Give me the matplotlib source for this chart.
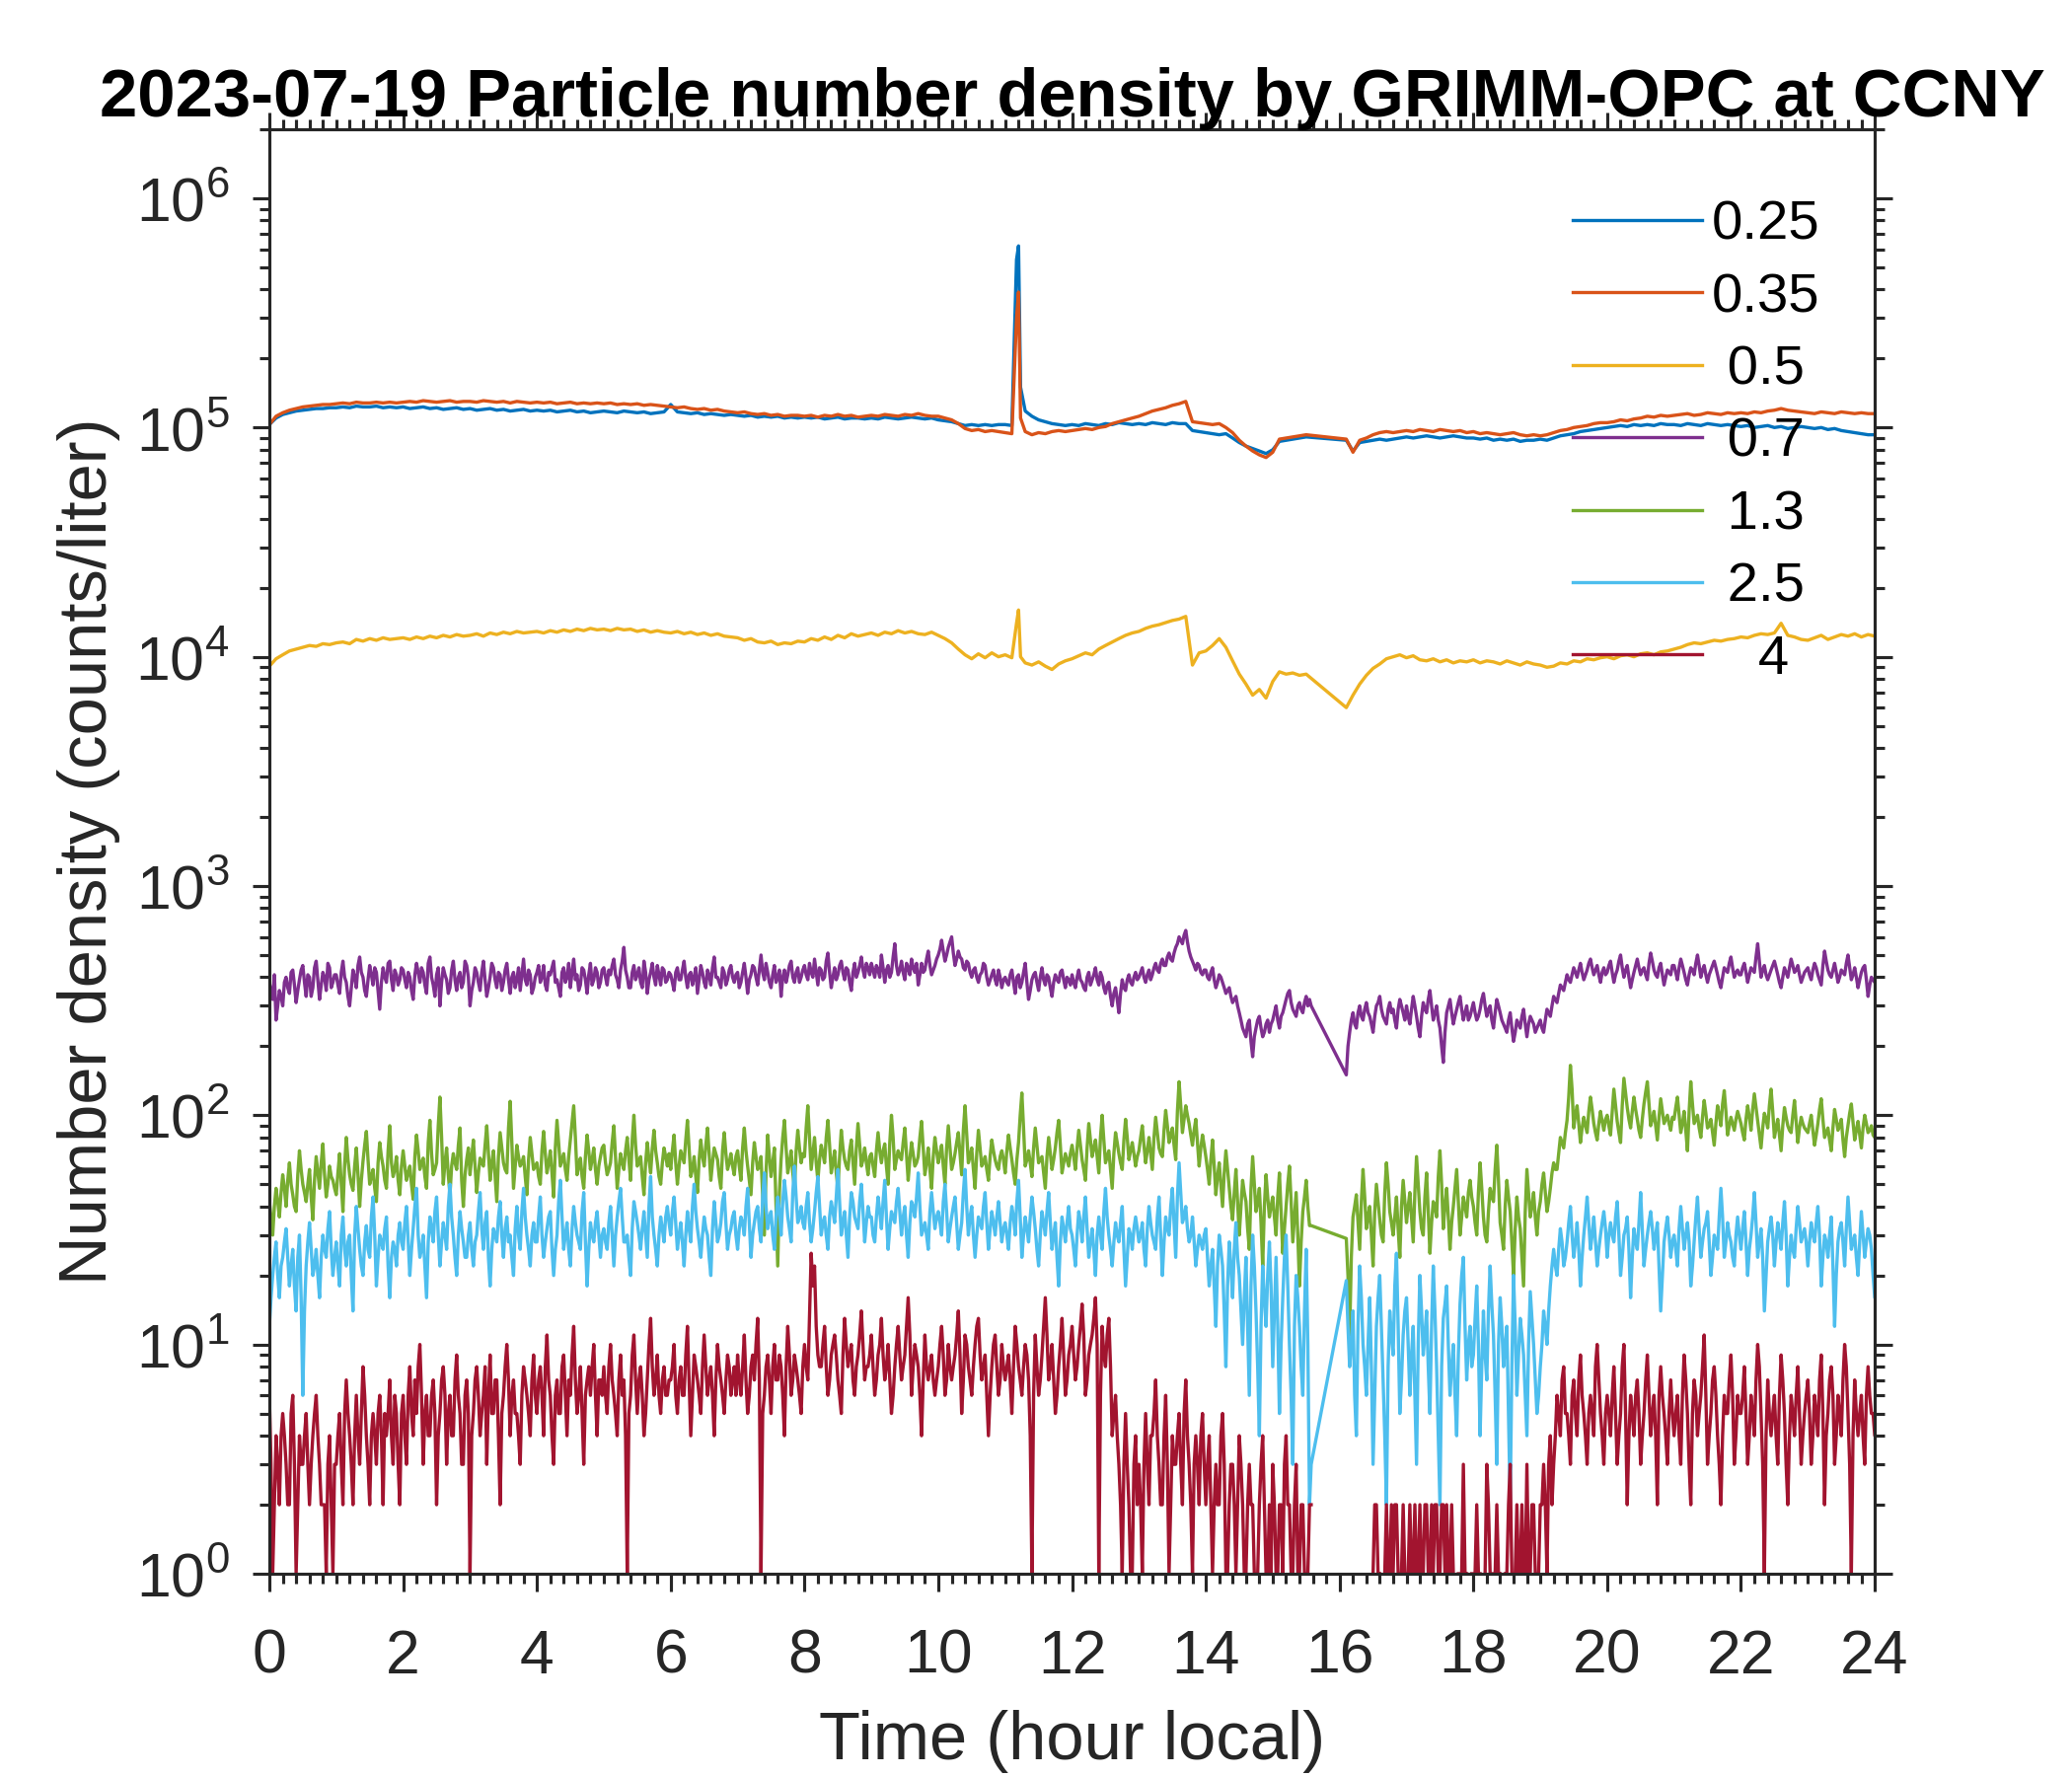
import numpy as np
import matplotlib
matplotlib.use('Agg')
import matplotlib.pyplot as plt
from matplotlib.ticker import MultipleLocator, LogLocator, NullFormatter

plt.rcParams['font.family'] = ['Liberation Sans', 'DejaVu Sans']

# GRIMM-OPC, 2023-07-19, CCNY.  One row per hour; no data 15.55 - 16.1 h
sizes = ['0.25', '0.35', '0.5', '0.7', '1.3', '2.5', '4']
colors = ['#0072BD', '#D95319', '#EDB120', '#7E2F8E', '#77AC30', '#4DBEEE', '#A2142F']

row_start = list(range(15)) + [15, 16.1] + list(range(17, 25))

# small sizes, 6 min steps, in 1000 counts/liter
n025 = [
    [103, 110, 114, 116, 118, 119, 120, 121, 121, 122],
    [122, 123, 122, 124, 123, 123, 124, 122, 123, 122],
    [123, 121, 122, 123, 121, 122, 120, 121, 122, 120],
    [121, 119, 120, 121, 119, 120, 118, 119, 120, 118],
    [119, 118, 119, 117, 118, 119, 117, 118, 116, 117],
    [118, 117, 116, 118, 117, 116, 117, 115, 116, 117],
    [126, 117, 116, 115, 116, 114, 115, 114, 113, 114],
    [113, 112, 113, 111, 112, 111, 112, 110, 111, 110],
    [111, 110, 111, 109, 110, 111, 109, 110, 110, 109],
    [110, 109, 111, 110, 109, 110, 111, 110, 109, 110],
    [108, 107, 106, 104, 102, 103, 102, 103, 102, 103],
    [103, 102, 620, 118, 112, 108, 106, 104, 103, 102],
    [103, 102, 104, 103, 102, 104, 103, 105, 104, 103],
    [104, 103, 105, 104, 103, 105, 104, 104, 97, 96],
    [95, 94, 93, 94, 90, 86, 83, 81, 79, 77],
    [80, 87, 88, 89, 90, 91],
    [88, 79, 86, 87, 88, 89, 88, 89, 90],
    [91, 90, 91, 92, 91, 90, 91, 92, 91, 90],
    [90, 89, 90, 88, 89, 88, 89, 87, 88, 88],
    [89, 88, 90, 92, 93, 94, 96, 97, 98, 99],
    [100, 101, 102, 101, 103, 102, 103, 102, 104, 103],
    [103, 102, 104, 103, 102, 104, 103, 102, 103, 102],
    [101, 102, 100, 101, 102, 100, 101, 99, 100, 101],
    [100, 99, 100, 98, 99, 97, 96, 95, 94, 93],
    [93],
]
n035 = [
    [103, 112, 116, 119, 121, 123, 124, 125, 126, 126],
    [127, 128, 127, 129, 128, 128, 129, 128, 129, 128],
    [129, 130, 129, 131, 130, 129, 130, 131, 129, 130],
    [130, 129, 131, 130, 129, 130, 128, 130, 129, 128],
    [129, 128, 129, 127, 128, 129, 127, 128, 127, 128],
    [127, 128, 126, 127, 126, 127, 125, 126, 125, 124],
    [123, 122, 123, 121, 120, 121, 119, 120, 118, 117],
    [116, 117, 115, 114, 115, 113, 114, 112, 113, 113],
    [112, 113, 111, 113, 112, 114, 112, 113, 111, 112],
    [113, 112, 114, 113, 112, 114, 113, 115, 113, 112],
    [112, 110, 108, 104, 99, 97, 98, 96, 97, 96],
    [95, 94, 390, 96, 93, 95, 94, 96, 97, 96],
    [97, 98, 99, 98, 100, 101, 104, 106, 108, 110],
    [112, 115, 118, 120, 122, 125, 127, 130, 106, 105],
    [104, 103, 104, 100, 95, 88, 83, 79, 76, 74],
    [78, 89, 90, 91, 92, 93],
    [89, 78, 88, 90, 93, 95, 96, 95, 96],
    [97, 96, 98, 97, 96, 98, 97, 96, 97, 95],
    [96, 94, 95, 94, 93, 94, 95, 93, 92, 93],
    [92, 93, 95, 97, 98, 100, 101, 102, 104, 105],
    [105, 106, 108, 107, 109, 110, 112, 111, 113, 112],
    [113, 114, 115, 113, 114, 116, 115, 114, 116, 115],
    [116, 115, 117, 116, 118, 119, 121, 119, 118, 117],
    [116, 115, 117, 116, 115, 117, 116, 115, 116, 115],
    [115],
]
n05 = [
    [9.1, 9.8, 10.2, 10.6, 10.8, 11.0, 11.2, 11.1, 11.4, 11.3],
    [11.5, 11.6, 11.4, 11.9, 11.7, 12.0, 11.8, 12.1, 11.9, 12.0],
    [12.1, 11.9, 12.2, 12.0, 12.3, 12.1, 12.4, 12.2, 12.5, 12.3],
    [12.4, 12.6, 12.3, 12.7, 12.5, 12.8, 12.6, 12.9, 12.7, 12.8],
    [12.9, 12.7, 13.0, 12.8, 13.1, 12.9, 13.2, 13.0, 13.3, 13.1],
    [13.2, 13.0, 13.3, 13.1, 13.2, 12.9, 13.1, 12.8, 13.0, 12.8],
    [12.7, 12.9, 12.6, 12.8, 12.5, 12.7, 12.4, 12.6, 12.3, 12.2],
    [12.1, 11.8, 12.0, 11.6, 11.5, 11.7, 11.3, 11.5, 11.4, 11.7],
    [11.6, 12.0, 11.8, 12.2, 11.9, 12.4, 12.1, 12.6, 12.3, 12.5],
    [12.7, 12.4, 12.8, 12.6, 13.0, 12.7, 12.9, 12.6, 12.5, 12.8],
    [12.4, 12.0, 11.5, 10.8, 10.2, 9.8, 10.3, 9.9, 10.4, 10.0],
    [10.2, 9.9, 16.0, 9.4, 9.2, 9.5, 9.1, 8.8, 9.3, 9.6],
    [9.8, 10.1, 10.4, 10.2, 10.8, 11.2, 11.6, 12.0, 12.4, 12.7],
    [12.9, 13.3, 13.6, 13.8, 14.1, 14.4, 14.6, 15.0, 9.2, 10.4],
    [10.6, 11.2, 12.0, 11.0, 9.6, 8.4, 7.6, 6.8, 7.2, 6.6],
    [7.8, 8.6, 8.4, 8.5, 8.3, 8.4],
    [6.0, 6.8, 7.6, 8.3, 8.9, 9.3, 9.8, 10.0, 10.2],
    [9.9, 10.1, 9.7, 9.6, 9.8, 9.5, 9.7, 9.4, 9.6, 9.5],
    [9.7, 9.4, 9.6, 9.5, 9.3, 9.6, 9.4, 9.2, 9.5, 9.3],
    [9.2, 9.0, 9.1, 9.4, 9.3, 9.6, 9.5, 9.8, 9.7, 9.9],
    [10.0, 9.8, 10.1, 10.2, 10.0, 10.3, 10.4, 10.2, 10.5, 10.6],
    [10.8, 11.0, 11.3, 11.5, 11.4, 11.6, 11.8, 11.7, 11.9, 12.0],
    [12.2, 12.1, 12.4, 12.6, 12.5, 12.7, 14.0, 12.4, 12.2, 11.9],
    [11.8, 12.1, 12.4, 11.9, 12.2, 12.5, 12.3, 12.6, 12.2, 12.5],
    [12.3],
]
# extra samples around the 11.2 h burst
spike_t = [11.17, 11.23]
spike_025 = [540, 150]
spike_035 = [300, 110]
spike_05 = [14.0, 10.0]

# larger sizes, 3 min steps (counts/liter) ...
n07 = [
    [380, 320, 260, 350, 300, 400, 340, 430, 310, 390, 450, 330, 400, 360, 470, 320, 420, 350, 440, 380],
    [410, 340, 470, 380, 300, 430, 360, 490, 400, 330, 450, 370, 420, 290, 440, 380, 470, 350, 410, 390],
    [430, 360, 400, 320, 460, 380, 420, 340, 490, 370, 410, 300, 440, 390, 360, 470, 350, 420, 380, 450],
    [300, 380, 420, 350, 470, 330, 400, 440, 360, 410, 380, 460, 340, 420, 390, 350, 480, 370, 410, 360],
    [420, 380, 450, 350, 410, 470, 390, 330, 440, 400, 360, 480, 410, 370, 430, 340, 460, 390, 420, 380],
    [440, 370, 410, 480, 390, 430, 540, 400, 360, 450, 410, 380, 470, 340, 420, 400, 450, 370, 430, 390],
    [410, 350, 440, 390, 470, 360, 420, 400, 340, 450, 380, 430, 370, 490, 400, 360, 420, 390, 450, 380],
    [420, 380, 460, 340, 410, 440, 370, 500, 390, 420, 360, 450, 400, 330, 430, 410, 470, 380, 440, 400],
    [450, 390, 420, 480, 370, 430, 400, 510, 360, 440, 410, 470, 390, 430, 350, 460, 420, 490, 400, 440],
    [460, 400, 430, 500, 380, 450, 420, 560, 410, 470, 390, 440, 480, 420, 370, 460, 430, 520, 410, 450],
    [500, 580, 470, 540, 600, 450, 520, 480, 430, 460, 400, 440, 380, 420, 450, 370, 410, 390, 430, 360],
    [400, 370, 430, 340, 410, 380, 460, 320, 390, 420, 350, 440, 370, 400, 330, 410, 380, 430, 360, 390],
    [410, 360, 430, 380, 350, 420, 390, 440, 370, 400, 340, 380, 300, 360, 280, 390, 350, 410, 370, 420],
    [400, 440, 380, 430, 410, 460, 420, 480, 450, 510, 470, 540, 600, 560, 640, 520, 470, 430, 450, 410],
    [430, 390, 440, 360, 410, 380, 340, 360, 310, 330, 280, 240, 220, 260, 180, 240, 270, 220, 250, 230],
    [260, 300, 240, 280, 320, 350, 290, 270, 310, 280, 330, 320],
    [150, 230, 280, 240, 300, 260, 310, 270, 230, 300, 330, 270, 250, 310, 290, 240, 320, 280],
    [300, 250, 330, 270, 220, 310, 280, 350, 260, 300, 240, 170, 280, 320, 250, 290, 330, 260, 300, 270],
    [310, 260, 290, 340, 270, 300, 240, 320, 280, 250, 230, 280, 210, 260, 240, 290, 220, 270, 250, 240],
    [260, 230, 290, 270, 330, 310, 370, 350, 410, 380, 440, 400, 460, 390, 430, 480, 410, 450, 380, 440],
    [420, 470, 380, 430, 500, 400, 450, 360, 420, 480, 410, 440, 390, 510, 430, 400, 460, 370, 430, 410],
    [450, 390, 480, 420, 370, 440, 410, 500, 400, 450, 380, 430, 470, 410, 360, 440, 420, 490, 400, 430],
    [410, 460, 380, 440, 420, 560, 400, 450, 390, 430, 470, 410, 360, 440, 400, 480, 420, 450, 380, 420],
    [440, 390, 460, 410, 370, 520, 430, 400, 460, 380, 430, 410, 500, 390, 440, 360, 420, 450, 330, 400],
    [380],
]
# ... plus the readings taken half-way between them
n07_mid = [
    [350, 410, 300, 330, 380, 360, 420, 370, 350, 430, 380, 410, 330, 440, 390, 370, 400, 460, 360, 410],
    [370, 420, 400, 330, 360, 400, 450, 420, 350, 390, 410, 440, 350, 380, 400, 460, 390, 430, 370, 440],
    [390, 420, 350, 410, 420, 440, 370, 460, 400, 330, 440, 380, 410, 340, 430, 390, 400, 360, 470, 400],
    [350, 440, 380, 420, 390, 360, 460, 390, 420, 350, 430, 390, 400, 360, 440, 410, 390, 430, 340, 400],
    [450, 400, 370, 420, 440, 380, 360, 420, 380, 460, 420, 390, 350, 440, 390, 410, 370, 440, 360, 430],
    [400, 430, 450, 410, 360, 470, 430, 360, 420, 390, 440, 360, 420, 390, 460, 370, 410, 440, 380, 420],
    [380, 420, 390, 430, 400, 410, 370, 440, 390, 420, 360, 410, 440, 400, 380, 440, 370, 430, 400, 410],
    [360, 420, 400, 390, 450, 400, 430, 420, 460, 380, 410, 380, 430, 400, 380, 450, 400, 420, 380, 430],
    [410, 460, 400, 420, 440, 390, 470, 420, 400, 390, 450, 420, 440, 380, 420, 400, 450, 430, 460, 410],
    [430, 450, 400, 440, 430, 400, 490, 450, 430, 420, 460, 410, 440, 460, 410, 420, 480, 450, 430, 480],
    [530, 520, 500, 570, 510, 480, 490, 440, 470, 420, 430, 400, 410, 460, 400, 390, 430, 370, 400, 390],
    [380, 410, 380, 400, 360, 420, 380, 350, 410, 380, 400, 390, 410, 360, 380, 390, 420, 390, 400, 370],
    [380, 400, 390, 360, 400, 370, 410, 390, 420, 360, 370, 330, 340, 320, 340, 360, 390, 380, 400, 390],
    [420, 400, 410, 390, 440, 430, 460, 450, 490, 480, 510, 560, 580, 610, 570, 490, 450, 460, 420, 430],
    [400, 420, 390, 380, 400, 360, 350, 330, 320, 300, 260, 230, 250, 210, 220, 260, 240, 230, 260, 250],
    [280, 260, 270, 300, 340, 310, 280, 300, 290, 310, 300, 300],
    [200, 260, 250, 280, 270, 290, 280, 250, 270, 310, 290, 260, 290, 280, 260, 290, 300, 260],
    [270, 290, 300, 240, 270, 290, 320, 300, 280, 260, 200, 230, 300, 280, 270, 310, 290, 280, 260, 290],
    [280, 270, 320, 300, 290, 260, 280, 300, 260, 240, 260, 240, 230, 250, 270, 250, 250, 260, 230, 250],
    [240, 260, 280, 300, 320, 340, 360, 380, 390, 410, 420, 430, 420, 410, 460, 440, 430, 410, 420, 410],
    [450, 420, 410, 470, 440, 430, 400, 390, 450, 440, 430, 410, 460, 470, 410, 440, 410, 400, 420, 450],
    [420, 440, 450, 390, 410, 430, 460, 450, 430, 410, 410, 450, 440, 380, 400, 430, 460, 440, 420, 410],
    [440, 420, 410, 430, 490, 470, 430, 410, 410, 450, 440, 380, 400, 420, 440, 450, 430, 410, 400, 430],
    [410, 430, 440, 390, 450, 470, 410, 430, 420, 400, 420, 460, 440, 410, 400, 390, 440, 390, 370, 390],
    [380],
]
n13 = [
    [42, 30, 48, 36, 55, 40, 62, 45, 38, 70, 50, 42, 58, 35, 66, 48, 75, 44, 60, 52],
    [45, 68, 38, 80, 55, 47, 72, 40, 63, 85, 50, 58, 42, 76, 60, 48, 90, 54, 66, 45],
    [70, 52, 60, 43, 82, 58, 65, 48, 95, 55, 62, 120, 50, 72, 45, 68, 58, 88, 40, 64],
    [55, 78, 46, 65, 60, 90, 52, 70, 42, 84, 62, 56, 115, 48, 74, 60, 66, 45, 80, 58],
    [62, 50, 85, 56, 70, 44, 95, 60, 68, 52, 78, 110, 55, 65, 48, 82, 58, 72, 50, 66],
    [74, 55, 62, 90, 48, 68, 58, 80, 52, 100, 60, 66, 45, 76, 56, 86, 62, 50, 72, 60],
    [58, 82, 50, 70, 62, 95, 54, 66, 46, 78, 60, 88, 52, 72, 64, 48, 84, 58, 68, 55],
    [70, 52, 88, 60, 45, 76, 58, 66, 30, 82, 54, 72, 22, 64, 95, 56, 70, 48, 86, 62],
    [66, 110, 58, 80, 52, 74, 62, 95, 56, 70, 48, 86, 64, 58, 78, 50, 92, 60, 72, 55],
    [68, 54, 84, 62, 75, 50, 100, 58, 70, 64, 88, 52, 76, 60, 66, 94, 55, 72, 48, 80],
    [62, 74, 50, 90, 58, 68, 84, 55, 110, 62, 72, 48, 86, 60, 66, 52, 78, 64, 58, 70],
    [56, 82, 64, 50, 76, 125, 60, 70, 54, 88, 62, 66, 48, 80, 58, 72, 95, 56, 68, 60],
    [74, 58, 86, 64, 52, 92, 66, 78, 56, 100, 62, 70, 48, 84, 68, 58, 96, 64, 76, 60],
    [70, 90, 62, 80, 58, 98, 72, 66, 105, 76, 88, 64, 140, 84, 110, 92, 74, 96, 60, 82],
    [66, 50, 78, 45, 62, 40, 70, 48, 35, 58, 30, 52, 42, 26, 66, 38, 48, 22, 55, 36],
    [44, 30, 56, 25, 40, 60, 28, 46, 18, 38, 52, 33],
    [29, 11, 36, 45, 26, 58, 32, 40, 22, 50, 35, 28, 62, 38, 30, 44, 24, 52],
    [34, 46, 28, 66, 38, 30, 56, 25, 42, 36, 70, 32, 48, 26, 40, 58, 30, 44, 36, 52],
    [40, 30, 62, 36, 28, 48, 42, 74, 34, 26, 52, 38, 20, 44, 32, 18, 58, 36, 46, 30],
    [42, 56, 38, 48, 62, 58, 80, 72, 95, 165, 88, 110, 76, 98, 84, 120, 92, 78, 104, 86],
    [100, 82, 130, 94, 76, 145, 108, 88, 120, 96, 80, 112, 140, 90, 104, 78, 118, 92, 100, 86],
    [96, 120, 84, 104, 70, 140, 92, 100, 80, 116, 88, 96, 74, 110, 90, 128, 82, 98, 86, 104],
    [92, 78, 110, 86, 124, 94, 72, 102, 88, 130, 80, 96, 70, 108, 90, 84, 116, 76, 98, 88],
    [84, 100, 74, 92, 118, 80, 88, 70, 106, 86, 96, 66, 90, 112, 78, 94, 72, 100, 84, 90],
    [80],
]
n13_mid = [
    [36, 40, 42, 46, 48, 52, 50, 40, 55, 58, 46, 50, 44, 52, 56, 62, 55, 50, 54, 48],
    [56, 50, 60, 64, 50, 60, 55, 52, 74, 64, 54, 48, 62, 66, 52, 70, 62, 58, 52, 60],
    [60, 56, 50, 66, 70, 62, 54, 76, 68, 58, 90, 80, 62, 55, 60, 62, 74, 52, 55, 72],
    [66, 60, 56, 62, 74, 68, 62, 54, 66, 72, 58, 88, 76, 60, 66, 62, 54, 64, 68, 60],
    [54, 70, 68, 62, 56, 72, 76, 64, 58, 66, 92, 80, 60, 54, 66, 70, 64, 58, 60, 72],
    [62, 58, 76, 66, 58, 62, 70, 64, 78, 74, 62, 54, 62, 64, 72, 70, 54, 62, 66, 68],
    [70, 62, 60, 66, 78, 72, 58, 54, 64, 66, 74, 68, 62, 68, 54, 70, 68, 62, 60, 66],
    [60, 72, 70, 52, 62, 66, 60, 44, 56, 66, 62, 40, 46, 80, 72, 62, 56, 70, 72, 68],
    [88, 80, 68, 62, 64, 68, 80, 74, 62, 56, 66, 72, 60, 70, 62, 72, 74, 64, 62, 66],
    [60, 70, 70, 70, 60, 76, 80, 64, 66, 76, 68, 64, 68, 62, 80, 72, 62, 58, 66, 70],
    [68, 60, 72, 72, 62, 76, 68, 86, 82, 66, 58, 68, 72, 62, 58, 66, 70, 60, 66, 64],
    [70, 72, 56, 64, 100, 88, 64, 62, 72, 74, 64, 56, 66, 68, 64, 84, 74, 62, 64, 68],
    [66, 72, 74, 58, 72, 78, 72, 66, 80, 78, 66, 58, 68, 76, 62, 78, 80, 70, 68, 66],
    [80, 74, 70, 68, 80, 84, 68, 86, 90, 82, 74, 104, 110, 96, 100, 82, 86, 76, 72, 74],
    [58, 64, 60, 54, 50, 56, 58, 40, 46, 42, 40, 46, 32, 48, 50, 42, 34, 40, 44, 40],
    [36, 44, 38, 32, 50, 42, 36, 30, 28, 44, 40, 33],
    [20, 24, 40, 34, 42, 44, 36, 30, 38, 42, 30, 46, 50, 34, 36, 32, 40, 42],
    [40, 36, 46, 50, 32, 44, 38, 34, 40, 54, 50, 40, 36, 34, 48, 42, 36, 40, 46, 44],
    [34, 46, 48, 30, 38, 44, 58, 52, 30, 40, 44, 28, 32, 36, 24, 38, 46, 40, 36, 38],
    [50, 46, 42, 56, 58, 68, 76, 84, 120, 130, 100, 92, 88, 90, 104, 106, 84, 92, 94, 96],
    [90, 104, 110, 84, 110, 125, 96, 104, 106, 86, 96, 126, 112, 96, 90, 98, 104, 96, 92, 98],
    [108, 100, 92, 86, 104, 112, 96, 88, 98, 102, 90, 84, 92, 100, 112, 104, 90, 92, 96, 98],
    [84, 96, 98, 106, 108, 82, 88, 96, 110, 104, 88, 82, 90, 98, 86, 100, 94, 88, 92, 86],
    [92, 86, 82, 106, 96, 84, 78, 88, 96, 90, 78, 80, 102, 94, 86, 82, 88, 92, 86, 82],
    [80],
]
n25 = [
    [12, 20, 28, 16, 24, 32, 18, 26, 14, 30, 6, 22, 34, 20, 26, 16, 30, 24, 38, 20],
    [28, 18, 36, 22, 30, 14, 40, 26, 20, 33, 24, 44, 18, 30, 26, 36, 16, 28, 22, 34],
    [26, 40, 20, 32, 48, 24, 30, 16, 36, 28, 44, 22, 34, 26, 50, 30, 20, 38, 28, 24],
    [34, 22, 30, 46, 26, 38, 18, 32, 28, 42, 24, 36, 30, 20, 40, 26, 48, 30, 22, 34],
    [28, 44, 24, 32, 38, 20, 30, 52, 26, 34, 22, 40, 30, 26, 46, 18, 34, 28, 38, 24],
    [32, 26, 40, 22, 36, 48, 28, 30, 20, 42, 34, 26, 38, 24, 54, 30, 22, 36, 28, 40],
    [30, 44, 26, 34, 22, 38, 28, 50, 32, 24, 36, 30, 20, 42, 28, 34, 46, 26, 32, 38],
    [26, 36, 30, 48, 24, 34, 40, 28, 56, 32, 38, 26, 44, 30, 52, 36, 28, 60, 34, 40],
    [32, 46, 28, 38, 54, 30, 36, 26, 42, 34, 58, 30, 38, 24, 46, 36, 32, 50, 28, 40],
    [36, 28, 44, 32, 52, 26, 38, 34, 48, 30, 40, 24, 42, 36, 56, 30, 34, 26, 46, 32],
    [38, 30, 50, 28, 36, 44, 26, 34, 58, 30, 40, 24, 36, 32, 46, 26, 38, 30, 42, 28],
    [34, 26, 40, 30, 52, 24, 36, 28, 44, 32, 22, 38, 30, 46, 26, 34, 18, 36, 28, 40],
    [30, 22, 38, 28, 44, 24, 32, 20, 36, 26, 48, 30, 22, 34, 28, 40, 18, 32, 26, 36],
    [28, 34, 22, 40, 30, 26, 44, 20, 36, 30, 48, 24, 62, 34, 40, 28, 36, 22, 30, 26],
    [32, 18, 26, 12, 30, 22, 8, 28, 16, 34, 20, 10, 24, 6, 30, 14, 4, 22, 12, 28],
    [8, 24, 5, 16, 30, 10, 3, 20, 12, 6, 26, 2],
    [19, 8, 14, 4, 22, 10, 6, 16, 3, 12, 20, 7, 2, 14, 9, 25, 5, 11],
    [16, 6, 12, 3, 20, 9, 14, 5, 22, 8, 2, 13, 18, 6, 10, 4, 15, 24, 7, 12],
    [9, 18, 4, 14, 7, 22, 11, 3, 16, 8, 12, 2, 20, 6, 13, 9, 4, 17, 10, 5],
    [8, 14, 10, 18, 26, 20, 32, 22, 28, 40, 24, 34, 18, 30, 44, 26, 36, 22, 30, 38],
    [24, 34, 28, 42, 20, 30, 36, 16, 32, 26, 46, 22, 30, 38, 26, 34, 14, 28, 36, 24],
    [30, 22, 40, 26, 34, 18, 28, 44, 24, 32, 38, 20, 30, 26, 48, 24, 34, 28, 22, 36],
    [26, 38, 20, 30, 46, 24, 32, 14, 28, 36, 22, 34, 26, 42, 18, 30, 24, 40, 28, 32],
    [22, 34, 28, 40, 18, 30, 24, 36, 12, 28, 34, 22, 44, 26, 30, 20, 38, 24, 32, 26],
    [16],
]
n25_mid = [
    [16, 24, 20, 22, 28, 24, 22, 18, 24, 16, 14, 28, 26, 22, 20, 24, 26, 32, 26, 24],
    [22, 30, 26, 28, 20, 30, 32, 22, 28, 26, 36, 30, 24, 28, 32, 22, 24, 26, 30, 28],
    [34, 28, 26, 40, 30, 26, 22, 28, 32, 38, 30, 28, 30, 40, 36, 24, 30, 32, 24, 30],
    [26, 28, 38, 32, 34, 24, 26, 30, 36, 30, 32, 28, 24, 32, 30, 38, 36, 26, 30, 28],
    [36, 30, 28, 36, 26, 26, 42, 36, 30, 26, 32, 34, 28, 38, 28, 26, 30, 34, 30, 30],
    [28, 34, 30, 30, 42, 36, 28, 24, 32, 38, 30, 32, 30, 40, 36, 26, 30, 32, 36, 34],
    [38, 34, 30, 28, 30, 32, 40, 38, 28, 30, 32, 24, 32, 34, 30, 42, 34, 30, 36, 30],
    [32, 34, 40, 34, 30, 38, 32, 44, 40, 36, 30, 36, 38, 42, 44, 32, 46, 44, 36, 34],
    [40, 34, 32, 46, 40, 34, 30, 36, 38, 44, 42, 34, 30, 36, 42, 34, 42, 38, 34, 36],
    [30, 36, 38, 42, 36, 32, 36, 42, 38, 36, 30, 34, 40, 44, 40, 32, 30, 38, 38, 36],
    [34, 42, 38, 32, 40, 34, 30, 46, 40, 36, 30, 30, 34, 40, 34, 32, 34, 36, 34, 32],
    [30, 34, 36, 42, 36, 30, 32, 36, 38, 26, 30, 34, 38, 34, 30, 24, 28, 32, 34, 32],
    [26, 30, 34, 36, 32, 28, 26, 30, 30, 38, 36, 26, 28, 30, 34, 26, 24, 30, 32, 32],
    [30, 26, 32, 34, 28, 36, 30, 28, 32, 40, 34, 44, 46, 36, 32, 30, 28, 26, 28, 30],
    [24, 22, 18, 22, 26, 14, 18, 22, 26, 24, 14, 16, 12, 18, 22, 8, 12, 16, 20, 18],
    [14, 12, 10, 24, 18, 6, 12, 16, 8, 14, 10, 3],
    [12, 10, 6, 12, 16, 8, 10, 8, 6, 16, 12, 4, 8, 11, 18, 12, 7, 14],
    [10, 9, 6, 10, 14, 11, 8, 12, 14, 4, 8, 15, 10, 8, 6, 9, 20, 12, 10, 8],
    [13, 10, 8, 9, 14, 15, 6, 10, 12, 10, 5, 8, 12, 9, 11, 6, 10, 13, 7, 6],
    [10, 12, 14, 22, 22, 26, 28, 24, 34, 30, 28, 26, 24, 36, 34, 30, 28, 26, 34, 32],
    [30, 30, 36, 30, 24, 32, 26, 24, 28, 34, 32, 26, 34, 32, 30, 22, 20, 32, 30, 28],
    [26, 32, 32, 30, 28, 22, 36, 32, 28, 34, 28, 24, 28, 36, 36, 28, 30, 24, 30, 30],
    [32, 28, 26, 36, 34, 28, 24, 20, 32, 30, 28, 30, 34, 30, 24, 26, 32, 34, 30, 28],
    [28, 30, 34, 30, 24, 28, 30, 22, 20, 32, 28, 32, 34, 28, 24, 28, 30, 28, 30, 20],
    [16],
]
n4 = [
    [6, 1, 4, 2, 5, 3, 2, 6, 1, 4, 3, 5, 2, 4, 6, 3, 2, 1, 4, 1],
    [3, 5, 2, 7, 4, 2, 6, 3, 8, 4, 2, 5, 3, 6, 2, 4, 7, 3, 5, 2],
    [6, 3, 8, 4, 5, 10, 3, 6, 4, 7, 2, 5, 8, 3, 6, 4, 9, 5, 3, 7],
    [1, 5, 8, 4, 6, 3, 9, 5, 7, 2, 6, 10, 4, 7, 5, 3, 8, 6, 4, 9],
    [5, 8, 4, 11, 6, 3, 7, 5, 9, 4, 6, 12, 5, 8, 3, 7, 6, 10, 4, 7],
    [8, 5, 10, 6, 4, 9, 7, 1, 6, 11, 5, 8, 4, 7, 13, 6, 9, 5, 8, 6],
    [7, 10, 5, 8, 6, 12, 4, 9, 7, 5, 11, 6, 8, 4, 10, 7, 5, 9, 6, 8],
    [9, 6, 11, 5, 8, 7, 13, 1, 6, 9, 5, 10, 7, 8, 4, 12, 6, 9, 7, 5],
    [10, 7, 25, 22, 9, 8, 12, 6, 9, 11, 7, 5, 13, 8, 10, 6, 9, 14, 7, 8],
    [11, 6, 9, 13, 7, 10, 5, 8, 12, 7, 9, 16, 6, 10, 8, 4, 11, 7, 9, 6],
    [8, 12, 6, 10, 7, 9, 14, 5, 11, 8, 6, 10, 13, 7, 9, 4, 8, 11, 6, 10],
    [7, 9, 5, 12, 8, 6, 10, 7, 1, 11, 6, 9, 16, 7, 10, 5, 8, 13, 6, 9],
    [12, 7, 10, 15, 6, 9, 11, 16, 1, 12, 8, 13, 4, 6, 3, 1, 5, 2, 1, 4],
    [3, 1, 5, 2, 4, 7, 3, 2, 6, 1, 4, 3, 5, 2, 7, 3, 1, 4, 2, 5],
    [2, 4, 1, 3, 2, 5, 1, 2, 3, 1, 4, 2, 1, 3, 2, 1, 2, 4, 1, 2],
    [3, 1, 2, 1, 4, 2, 1, 3, 1, 2, 1, 2],
    [0, 0, 0, 0, 0, 0, 0, 0, 1, 2, 1, 0, 2, 1, 1, 2, 1, 2],
    [1, 2, 1, 1, 2, 1, 2, 1, 1, 2, 1, 2, 2, 1, 1, 0, 1, 3, 1, 0],
    [1, 2, 1, 0, 3, 1, 1, 2, 1, 0, 1, 3, 1, 2, 1, 1, 3, 1, 2, 1],
    [2, 3, 1, 4, 3, 6, 4, 8, 5, 3, 7, 4, 9, 5, 3, 6, 4, 10, 5, 3],
    [6, 4, 8, 3, 5, 10, 2, 6, 4, 7, 3, 5, 9, 4, 6, 2, 8, 5, 3, 7],
    [4, 6, 3, 9, 5, 2, 7, 4, 6, 11, 3, 5, 8, 4, 2, 6, 5, 9, 3, 6],
    [5, 8, 3, 6, 4, 10, 5, 1, 7, 4, 6, 3, 9, 5, 2, 6, 4, 8, 3, 5],
    [7, 3, 6, 4, 9, 2, 5, 8, 3, 6, 4, 10, 5, 1, 7, 4, 6, 3, 8, 5],
    [4],
]
n4_mid = [
    [3, 2, 3, 4, 4, 2, 5, 3, 2, 3, 4, 3, 3, 5, 4, 2, 2, 3, 2, 3],
    [4, 3, 5, 5, 3, 4, 4, 5, 6, 3, 4, 4, 5, 4, 5, 5, 4, 6, 3, 5],
    [4, 6, 5, 7, 8, 6, 5, 4, 6, 5, 4, 7, 6, 5, 4, 7, 6, 3, 6, 5],
    [4, 7, 6, 5, 8, 6, 5, 7, 4, 5, 8, 7, 6, 5, 4, 6, 7, 5, 7, 6],
    [7, 6, 8, 7, 4, 6, 5, 8, 6, 7, 9, 7, 6, 5, 6, 8, 8, 6, 7, 6],
    [6, 8, 7, 5, 7, 6, 4, 5, 9, 7, 7, 6, 5, 10, 8, 7, 6, 7, 6, 7],
    [8, 6, 7, 6, 9, 7, 6, 8, 6, 8, 8, 7, 6, 7, 8, 6, 7, 8, 7, 6],
    [7, 8, 7, 6, 9, 10, 7, 5, 8, 7, 8, 7, 9, 6, 8, 9, 7, 8, 6, 8],
    [8, 13, 18, 12, 8, 10, 8, 7, 10, 9, 6, 9, 10, 9, 7, 8, 11, 10, 8, 9],
    [8, 7, 10, 9, 8, 7, 6, 10, 9, 8, 12, 11, 8, 9, 6, 7, 8, 8, 7, 7],
    [10, 9, 7, 8, 8, 11, 9, 7, 10, 7, 8, 12, 9, 8, 6, 6, 10, 8, 7, 8],
    [8, 7, 8, 10, 7, 8, 9, 4, 6, 8, 7, 12, 11, 8, 7, 6, 10, 9, 7, 10],
    [9, 8, 12, 11, 7, 10, 13, 10, 6, 9, 11, 8, 5, 4, 2, 3, 3, 1, 3, 2],
    [2, 3, 3, 4, 5, 4, 2, 4, 3, 2, 3, 4, 3, 5, 4, 2, 3, 3, 4, 3],
    [3, 2, 2, 2, 4, 3, 1, 3, 2, 2, 3, 1, 2, 2, 1, 1, 3, 2, 1, 1],
    [2, 1, 2, 3, 2, 1, 2, 1, 2, 1, 1, 2],
    [0, 0, 0, 0, 0, 0, 0, 0, 2, 1, 0, 1, 1, 2, 2, 1, 1, 1],
    [1, 1, 2, 1, 1, 2, 1, 2, 2, 1, 2, 1, 1, 2, 0, 1, 1, 1, 0, 1],
    [1, 1, 0, 1, 2, 1, 1, 1, 0, 1, 2, 1, 1, 1, 2, 1, 1, 2, 1, 1],
    [2, 2, 3, 2, 4, 5, 7, 5, 4, 6, 5, 7, 6, 4, 5, 5, 8, 7, 4, 5],
    [5, 6, 5, 4, 8, 5, 4, 5, 6, 5, 4, 7, 6, 5, 4, 6, 6, 4, 5, 5],
    [5, 4, 6, 7, 3, 5, 6, 5, 8, 6, 4, 7, 6, 3, 4, 5, 7, 6, 4, 5],
    [6, 5, 4, 5, 7, 8, 3, 4, 5, 5, 4, 6, 7, 3, 4, 5, 6, 5, 4, 6],
    [5, 4, 5, 7, 5, 4, 7, 6, 4, 5, 7, 8, 3, 4, 5, 5, 4, 6, 6, 5],
    [4],
]


def expand(rows, step, scale=1.0, extra_t=(), extra_v=(), mid=None):
    ts = [s + step * np.arange(len(r)) for s, r in zip(row_start, rows)]
    vs = [np.asarray(r, float) for r in rows]
    if mid is not None:
        ts += [s + step * (np.arange(len(r)) + 0.5) for s, r in zip(row_start, mid)]
        vs += [np.asarray(r, float) for r in mid]
    t = np.concatenate(ts + [np.array(extra_t, float)])
    v = np.concatenate(vs + [np.array(extra_v, float)]) * scale
    order = np.argsort(t, kind='stable')
    return t[order], v[order]


series = [
    expand(n025, 0.1, 1000, spike_t, spike_025),
    expand(n035, 0.1, 1000, spike_t, spike_035),
    expand(n05, 0.1, 1000, spike_t, spike_05),
    expand(n07, 0.05, mid=n07_mid),
    expand(n13, 0.05, mid=n13_mid),
    expand(n25, 0.05, mid=n25_mid),
    expand(n4, 0.05, mid=n4_mid),
]

fig = plt.figure(figsize=(7, 6), dpi=300)
ax = fig.add_axes([0.130, 0.1139, 0.7748, 0.8133])

for (t, v), s, c in zip(series, sizes, colors):
    # leading spaces roughly centre the shorter labels like the original legend
    ax.plot(t, v, color=c, lw=0.8, label=' ' * (4 - len(s)) + s)

ax.set_yscale('log', nonpositive='mask')
ax.set_xlim(0, 24)
ax.set_ylim(1, 2e6)
ax.xaxis.set_major_locator(MultipleLocator(2))
ax.xaxis.set_minor_locator(MultipleLocator(0.2))
ax.yaxis.set_major_locator(LogLocator(base=10, numticks=10))
ax.yaxis.set_minor_locator(LogLocator(base=10, subs=np.arange(2, 10), numticks=12))
ax.yaxis.set_minor_formatter(NullFormatter())

dark = '#262626'
ax.tick_params(which='both', direction='out', top=True, right=True, colors=dark, width=0.75)
ax.tick_params(which='major', length=4.2, labelsize=15)
ax.tick_params(which='minor', length=2.3)
ax.tick_params(axis='x', which='major', pad=9)
ax.tick_params(axis='y', which='major', pad=5.5)
for sp in ax.spines.values():
    sp.set_color(dark)
    sp.set_linewidth(0.75)

ax.set_xlabel('Time (hour local)', fontsize=16.5, color=dark)
ax.set_ylabel('Number density (counts/liter)', fontsize=16.5, color=dark)
ax.xaxis.set_label_coords(0.5, -0.094)
ax.yaxis.set_label_coords(-0.093, 0.5)

ax.text(0.5, 1.0089, '2023-07-19 Particle number density by GRIMM-OPC at CCNY',
        transform=ax.transAxes, ha='center', va='baseline', fontsize=16.5, fontweight='bold')

ax.legend(loc='upper left', bbox_to_anchor=(0.812, 0.951), frameon=False, fontsize=13.5,
          handlelength=2.33, handletextpad=0.17, labelspacing=0.38, borderpad=0, borderaxespad=0)

fig.savefig('out.png', dpi=300)
